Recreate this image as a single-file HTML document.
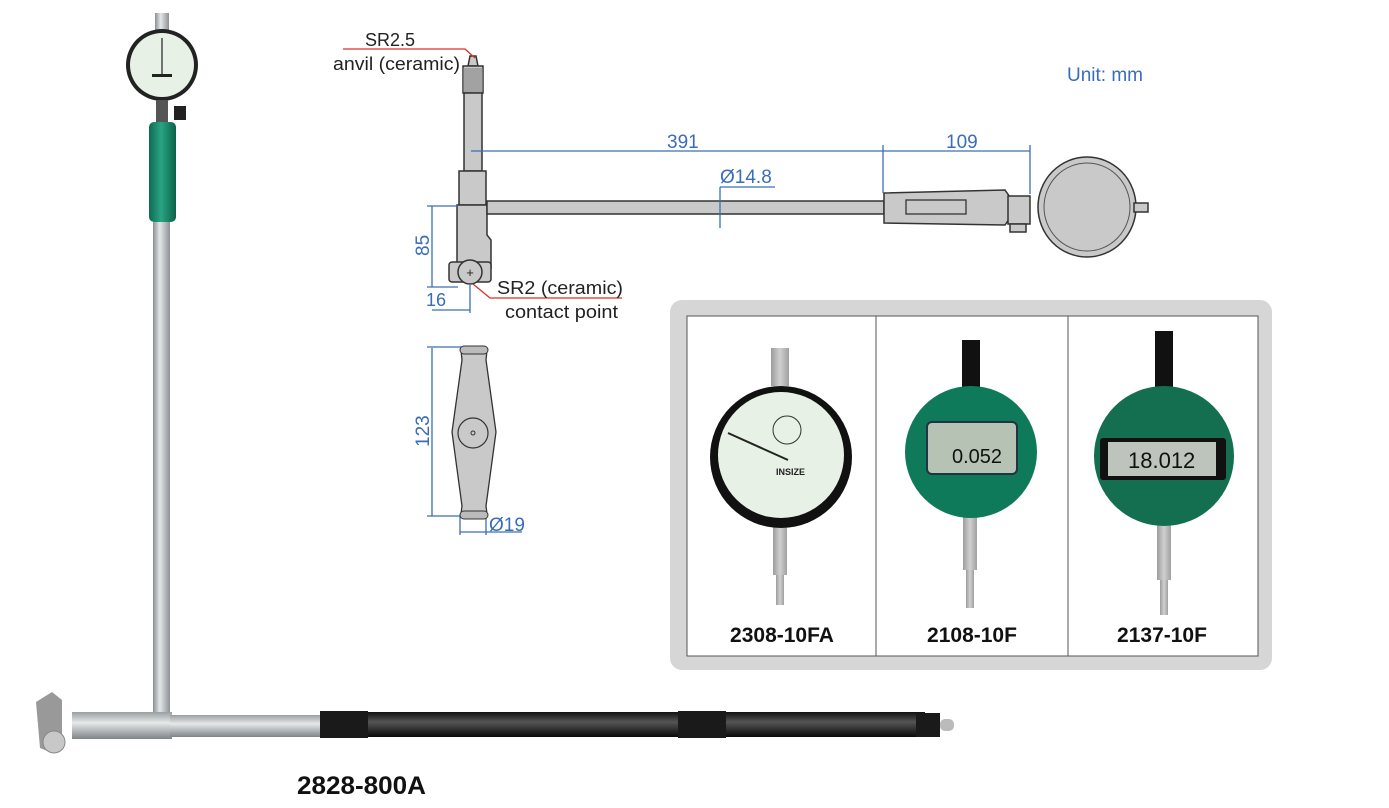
<!DOCTYPE html>
<html><head><meta charset="utf-8"><style>
html,body{margin:0;padding:0;background:#fff;}
svg{display:block;}
text{font-family:"Liberation Sans",sans-serif;}
</style></head><body>
<svg width="1389" height="808" viewBox="0 0 1389 808" xmlns="http://www.w3.org/2000/svg">
<defs>
<linearGradient id="rodv" x1="0" x2="1" y1="0" y2="0"><stop offset="0" stop-color="#8a8f92"/><stop offset="0.4" stop-color="#e4e7e8"/><stop offset="1" stop-color="#8d9295"/></linearGradient>
<linearGradient id="rodh" x1="0" x2="0" y1="0" y2="1"><stop offset="0" stop-color="#9a9fa2"/><stop offset="0.4" stop-color="#e6e8e9"/><stop offset="1" stop-color="#7f8487"/></linearGradient>
<linearGradient id="blk" x1="0" x2="0" y1="0" y2="1"><stop offset="0" stop-color="#111"/><stop offset="0.4" stop-color="#555"/><stop offset="1" stop-color="#0a0a0a"/></linearGradient>
<linearGradient id="grn" x1="0" x2="1" y1="0" y2="0"><stop offset="0" stop-color="#0d6b52"/><stop offset="0.45" stop-color="#2aa483"/><stop offset="1" stop-color="#0b6149"/></linearGradient>
<linearGradient id="gr" x1="0" x2="1"><stop offset="0" stop-color="#9c9c9c"/><stop offset="0.5" stop-color="#d0d0d0"/><stop offset="1" stop-color="#a0a0a0"/></linearGradient>
</defs>

<!-- LEFT TOOL -->
<rect x="155" y="13" width="14" height="20" fill="url(#rodv)"/>
<circle cx="162" cy="65" r="36" fill="#222"/>
<circle cx="162" cy="65" r="32" fill="#e8f1e6"/>
<line x1="162" y1="38" x2="162" y2="75" stroke="#222" stroke-width="1.2"/>
<rect x="152" y="74" width="20" height="3" fill="#222"/>
<rect x="156" y="100" width="12" height="22" fill="#555"/>
<rect x="174" y="106" width="12" height="14" fill="#222"/>
<rect x="149" y="122" width="27" height="100" rx="5" fill="url(#grn)"/>
<rect x="153" y="222" width="17" height="492" fill="url(#rodv)"/>
<rect x="72" y="712" width="100" height="27" fill="url(#rodh)"/>
<rect x="170" y="715" width="152" height="22" fill="url(#rodh)"/>
<rect x="320" y="712" width="605" height="25" fill="url(#blk)"/>
<rect x="320" y="711" width="48" height="27" fill="#1a1a1a"/>
<rect x="678" y="711" width="48" height="27" fill="#1a1a1a"/>
<rect x="916" y="713" width="24" height="24" fill="#1a1a1a"/>
<rect x="940" y="719" width="14" height="12" rx="5" fill="#bbb"/>
<path d="M36 702 L52 692 L62 700 L62 742 L50 752 L40 748 Z" fill="#999"/>
<circle cx="54" cy="742" r="11" fill="#c8c8c8" stroke="#888"/>
<text x="297" y="794" font-size="25" font-weight="bold" fill="#111" textLength="129" lengthAdjust="spacingAndGlyphs">2828-800A</text>

<!-- TECH DRAWING -->
<g fill="#c9c9c9" stroke="#333" stroke-width="1.5">
<path d="M468 66 L470 56 L476 56 L478 66 Z"/>
<rect x="463" y="66" width="20" height="27"/>
<rect x="464" y="93" width="18" height="78"/>
<rect x="459" y="171" width="27" height="34"/>
<path d="M457 205 L487 205 L487 235 L491 240 L491 268 L457 268 Z"/>
<rect x="487" y="201" width="397" height="13"/>
<path d="M884 193 L1005 190 L1012 200 L1012 215 L1005 225 L884 223 Z"/>
<rect x="1008" y="196" width="22" height="28"/>
<rect x="1010" y="224" width="16" height="8"/>
<ellipse cx="1087" cy="207" rx="49" ry="50"/>
<rect x="1134" y="203" width="14" height="9"/>
<rect x="449" y="262" width="42" height="20" rx="3"/>
<circle cx="470" cy="272" r="12"/>
</g>
<ellipse cx="1087" cy="207" rx="43" ry="44" fill="none" stroke="#555" stroke-width="1"/>
<rect x="906" y="200" width="60" height="14" fill="none" stroke="#333" stroke-width="1.3"/>
<rect x="463" y="68" width="20" height="24" fill="#888" opacity="0.6"/>
<text x="470" y="277" font-size="13" text-anchor="middle" fill="#222">+</text>

<!-- dimensions blue -->
<g stroke="#3a6db8" stroke-width="1.3" fill="none">
<line x1="471" y1="151" x2="883" y2="151"/>
<line x1="883" y1="151" x2="1030" y2="151"/>
<line x1="883" y1="145" x2="883" y2="193"/>
<line x1="1030" y1="145" x2="1030" y2="194"/>
<line x1="720" y1="187" x2="720" y2="228"/>
<line x1="720" y1="187" x2="775" y2="187"/>
<line x1="432" y1="206" x2="432" y2="287"/>
<line x1="427" y1="206" x2="458" y2="206"/>
<line x1="427" y1="287" x2="458" y2="287"/>
<line x1="432" y1="310" x2="470" y2="310"/>
<line x1="470" y1="285" x2="470" y2="313"/>
<line x1="432" y1="348" x2="432" y2="516"/>
<line x1="427" y1="347" x2="462" y2="347"/>
<line x1="427" y1="516" x2="462" y2="516"/>
<line x1="460" y1="516" x2="460" y2="535"/>
<line x1="460" y1="532" x2="522" y2="532"/>
<line x1="486" y1="516" x2="486" y2="535"/>
</g>
<g fill="#3a6db8" font-size="19">
<text x="667" y="148">391</text>
<text x="946" y="148">109</text>
<text x="720" y="183">Ø14.8</text>
<text x="1067" y="81">Unit: mm</text>
<text x="426" y="306" font-size="18">16</text>
<text x="489" y="531">Ø19</text>
<text transform="translate(429,256) rotate(-90)">85</text>
<text transform="translate(429,447) rotate(-90)">123</text>
</g>
<!-- red leaders -->
<g stroke="#d9312b" stroke-width="1.3" fill="none">
<polyline points="343,49 465,49 475,58"/>
<polyline points="473,284 490,298 622,298"/>
</g>
<g fill="#222" font-size="18">
<text x="365" y="46">SR2.5</text>
<text x="333" y="70" textLength="127" lengthAdjust="spacingAndGlyphs">anvil (ceramic)</text>
<text x="497" y="294" textLength="126" lengthAdjust="spacingAndGlyphs">SR2 (ceramic)</text>
<text x="505" y="318" textLength="113" lengthAdjust="spacingAndGlyphs">contact point</text>
</g>

<!-- handle drawing -->
<path d="M461 350 L487 350 L486 360 L496 432 L486 506 L487 514 L461 514 L462 506 L452 432 L462 360 Z" fill="#c9c9c9" stroke="#333" stroke-width="1.3"/>
<rect x="460" y="346" width="28" height="8" rx="4" fill="#bbb" stroke="#333"/>
<rect x="460" y="511" width="28" height="8" rx="4" fill="#bbb" stroke="#333"/>
<circle cx="473" cy="433" r="15" fill="none" stroke="#333" stroke-width="1.2"/>
<circle cx="473" cy="433" r="2" fill="none" stroke="#333"/>

<!-- PANEL -->
<rect x="670" y="300" width="602" height="370" rx="12" fill="#d6d6d6"/>
<rect x="687" y="316" width="571" height="340" fill="#fff" stroke="#555" stroke-width="1"/>
<line x1="876" y1="316" x2="876" y2="656" stroke="#555"/>
<line x1="1068" y1="316" x2="1068" y2="656" stroke="#555"/>

<!-- indicator 1 -->
<rect x="771" y="348" width="18" height="38" fill="url(#gr)"/>
<rect x="773" y="515" width="14" height="60" fill="url(#gr)"/>
<rect x="776" y="575" width="8" height="30" fill="url(#gr)"/>
<circle cx="781" cy="457" r="71" fill="#111"/>
<circle cx="781" cy="455" r="63" fill="#e8f1e6"/>
<circle cx="787" cy="430" r="14" fill="none" stroke="#333"/>
<line x1="728" y1="433" x2="788" y2="460" stroke="#222" stroke-width="2"/>
<text x="776" y="475" font-size="9" font-weight="bold" fill="#222">INSIZE</text>

<!-- indicator 2 -->
<rect x="962" y="340" width="18" height="60" fill="#111"/>
<rect x="963" y="510" width="14" height="60" fill="url(#gr)"/>
<rect x="966" y="570" width="8" height="38" fill="url(#gr)"/>
<circle cx="971" cy="452" r="66" fill="#0f7a5a"/>
<rect x="927" y="422" width="90" height="52" rx="5" fill="#b6c2b4" stroke="#234" stroke-width="2"/>
<text x="952" y="463" font-size="20" fill="#111">0.052</text>

<!-- indicator 3 -->
<rect x="1155" y="331" width="18" height="66" fill="#111"/>
<rect x="1157" y="520" width="14" height="60" fill="url(#gr)"/>
<rect x="1160" y="580" width="8" height="35" fill="url(#gr)"/>
<circle cx="1164" cy="456" r="70" fill="#136f4f"/>
<rect x="1100" y="438" width="126" height="42" rx="3" fill="#111"/>
<rect x="1108" y="442" width="108" height="34" fill="#bcc4bb"/>
<text x="1128" y="468" font-size="22" fill="#111">18.012</text>

<g font-size="21" font-weight="bold" fill="#111" text-anchor="middle">
<text x="782" y="642">2308-10FA</text>
<text x="972" y="642">2108-10F</text>
<text x="1162" y="642">2137-10F</text>
</g>
</svg>
</body></html>
